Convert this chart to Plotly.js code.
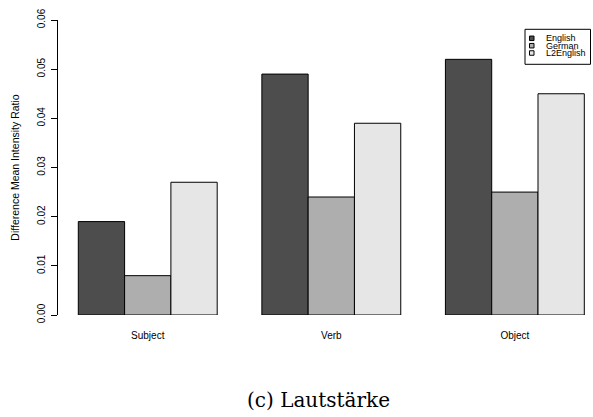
<!DOCTYPE html>
<html>
<head>
<meta charset="utf-8">
<script src="https://cdn.plot.ly/plotly-3.0.1.min.js"></script>
<style>html,body{margin:0;padding:0;background:#fff;}#chart{width:593px;height:417px;}</style>
</head>
<body>
<div id="chart"></div>
<script>
const categories = ['Subject', 'Verb', 'Object'];
const seriesNames = ['English', 'German', 'L2English'];
const english = [0.019, 0.049, 0.052];
const german = [0.008, 0.024, 0.025];
const l2english = [0.027, 0.039, 0.045];
const seriesColors = ['#4D4D4D', '#AEAEAE', '#E6E6E6'];
const yTickVals = [0, 0.01, 0.02, 0.03, 0.04, 0.05, 0.06];
const yTickText = ['0.00', '0.01', '0.02', '0.03', '0.04', '0.05', '0.06'];
const yTitle = 'Difference Mean Intensity Ratio';
const caption = '(c) Lautstärke';

const seriesValues = [english, german, l2english];
const sans = '"Liberation Sans", Arial, Helvetica, sans-serif';

const traces = seriesValues.map((vals, i) => ({
  type: 'bar',
  name: seriesNames[i],
  x: categories,
  y: vals,
  marker: {color: seriesColors[i], line: {color: '#000', width: 1}},
  hoverinfo: 'skip'
}));

// plot area in pixels: x 58..588, y 20..315
const L = 58, W = 530, T = 20, H = 295;
const px = v => (v - L) / W;
const py = v => (T + H - v) / H;

const shapes = [];
const annotations = [];
// legend box
shapes.push({type: 'rect', xref: 'paper', yref: 'paper',
  x0: px(525), x1: px(590.5), y0: py(64.3), y1: py(29.3),
  line: {color: '#000', width: 1}, fillcolor: 'rgba(0,0,0,0)'});
const rowY = [38.3, 45.7, 53.0];
seriesNames.forEach((nm, i) => {
  shapes.push({type: 'rect', xref: 'paper', yref: 'paper',
    x0: px(529.5), x1: px(534), y0: py(rowY[i] + 2.25), y1: py(rowY[i] - 2.25),
    line: {color: '#000', width: 1}, fillcolor: seriesColors[i]});
  annotations.push({xref: 'paper', yref: 'paper', x: px(544), y: py(rowY[i]),
    xanchor: 'left', yanchor: 'middle', showarrow: false, text: nm,
    font: {family: sans, size: 9, color: '#000'}});
});
annotations.push({xref: 'paper', yref: 'paper', x: px(318), y: py(400),
  xanchor: 'center', yanchor: 'middle', showarrow: false, text: caption,
  font: {family: '"DejaVu Serif", "Liberation Serif", serif', size: 20, color: '#000'}});

const layout = {
  width: 593, height: 417,
  margin: {l: L, r: 593 - L - W, t: T, b: 417 - T - H, pad: 0},
  paper_bgcolor: '#fff', plot_bgcolor: '#fff',
  showlegend: false,
  barmode: 'group', bargap: 0.2433, bargroupgap: 0,
  font: {family: sans, size: 10, color: '#000'},
  xaxis: {
    type: 'category', range: [-0.48897, 2.3985],
    showline: false, showgrid: false, zeroline: false, ticks: '',
    tickfont: {family: sans, size: 10, color: '#000'},
    ticklabelstandoff: 13, fixedrange: true
  },
  yaxis: {
    range: [0, 0.06], tickvals: yTickVals, ticktext: yTickText,
    tickangle: -90, ticks: 'outside', ticklen: 6, tickwidth: 1, tickcolor: '#000',
    showline: true, linecolor: '#000', linewidth: 1,
    showgrid: false, zeroline: false,
    tickfont: {family: sans, size: 10, color: '#000'},
    ticklabelstandoff: 2,
    title: {text: yTitle, font: {family: sans, size: 10.5, color: '#000'}, standoff: 14},
    fixedrange: true
  },
  shapes: shapes,
  annotations: annotations
};

Plotly.newPlot('chart', traces, layout, {displayModeBar: false, staticPlot: true});
</script>
</body>
</html>
